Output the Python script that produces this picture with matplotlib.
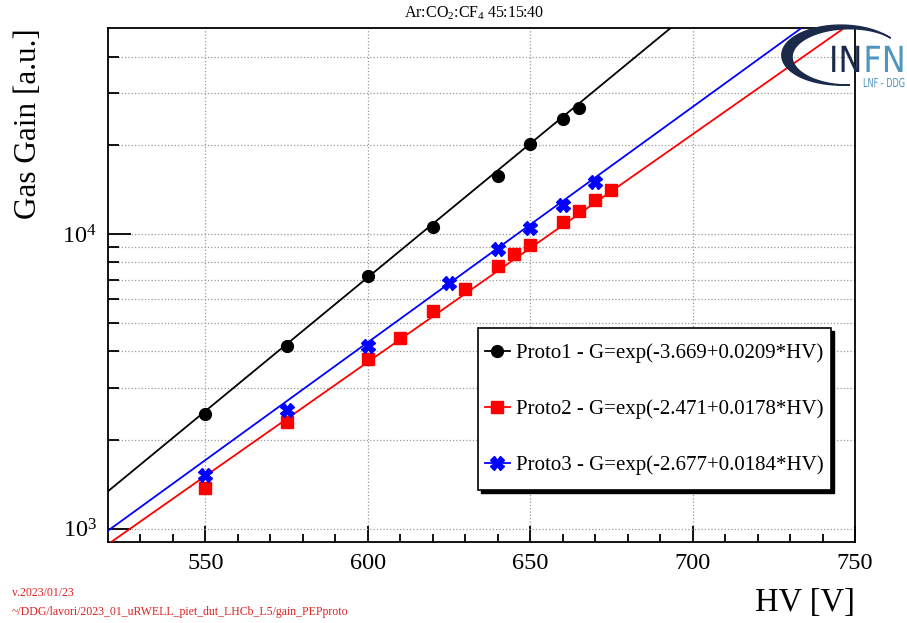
import numpy as np
import matplotlib.pyplot as plt
import matplotlib.transforms as mtransforms
from matplotlib.patches import Polygon, PathPatch, Rectangle
from matplotlib.textpath import TextPath
from matplotlib.font_manager import FontProperties
from matplotlib.ticker import FixedLocator, NullFormatter

plt.rcParams['font.family'] = ['Liberation Serif', 'DejaVu Serif']
plt.rcParams['mathtext.fontset'] = 'custom'
plt.rcParams['mathtext.rm'] = 'Liberation Serif'
plt.rcParams['mathtext.it'] = 'Liberation Serif:italic'

# dati
hv_p1 = [550, 575, 600, 620, 640, 650, 660, 665]
gain_p1 = [2455, 4150, 7170, 10580, 15770, 20200, 24600, 26800]

hv_p2 = [550, 575, 600, 610, 620, 630, 640, 645, 650, 660, 665, 670, 675]
gain_p2 = [1370, 2300, 3750, 4450, 5460, 6510, 7810, 8550, 9200, 11010, 11930, 13070, 14130]

hv_p3 = [550, 575, 600, 625, 640, 650, 660, 670]
gain_p3 = [1517, 2530, 4180, 6820, 8900, 10480, 12540, 14970]

# parametri dei fit (dalla legenda)
fit_p1 = (-3.669, 0.0209)
fit_p2 = (-2.471, 0.0178)
fit_p3 = (-2.677, 0.0184)

W, H = 907, 623
fig = plt.figure(figsize=(W / 100, H / 100), dpi=100)
ax = fig.add_axes([108 / W, 1 - 542 / H, 747 / W, 514 / H])

hv_fit = np.linspace(520, 750, 200)
series = [
    (hv_p1, gain_p1, fit_p1, 'black', 'o', 8.5, 'Proto1'),
    (hv_p2, gain_p2, fit_p2, '#ff0000', 's', 8.5, 'Proto2'),
    (hv_p3, gain_p3, fit_p3, '#0000ff', 'X', 9.5, 'Proto3'),
]
handles = []
for hv, g, (a, b), col, mk, ms, name in series:
    ax.plot(hv_fit, np.exp(a + b * hv_fit), color=col, lw=1.3, zorder=3)
    ax.plot(hv, g, ls='none', marker=mk, ms=ms, color=col, mec=col, zorder=4)
    h, = ax.plot([], [], color=col, lw=1.3, marker=mk, ms=ms, mec=col)
    h.set_label('%s - G=exp(%.3f+%.4f*HV)' % (name, a, b))
    handles.append(h)

ax.set_yscale('log')
ax.set_xlim(520, 750)
ax.set_ylim(900, 50000)

ax.xaxis.set_major_locator(FixedLocator([550, 600, 650, 700, 750]))
ax.xaxis.set_minor_locator(FixedLocator(np.arange(530, 750, 10)))
ax.yaxis.set_major_locator(FixedLocator([1e3, 1e4]))
ax.yaxis.set_minor_locator(FixedLocator([k * 1e3 for k in range(2, 10)] + [k * 1e4 for k in range(2, 5)]))
ax.yaxis.set_minor_formatter(NullFormatter())
ax.set_yticklabels([r'$10^{3}$', r'$10^{4}$'])

ax.tick_params(which='both', direction='in', top=False, right=False, width=1.3)
ax.tick_params(axis='x', which='major', length=11.5, labelsize=17.5, pad=8)
ax.tick_params(axis='x', which='minor', length=6)
ax.tick_params(axis='y', which='major', length=16.5, labelsize=17.5, pad=8)
ax.tick_params(axis='y', which='minor', length=8)
for s in ax.spines.values():
    s.set_linewidth(1.3)

ax.grid(True, which='major', axis='x', ls=':', color='#999999', lw=0.9)
ax.grid(True, which='both', axis='y', ls=':', color='#999999', lw=0.9)

ax.set_xlabel('HV [V]', fontsize=23.5, loc='right', labelpad=10)
ax.set_ylabel('Gas Gain [a.u.]', fontsize=22.5, loc='top', labelpad=14)

# legenda: riquadro con ombra stile ROOT disegnato a mano
lx, ly, lw_, lh = 0.495, 0.101, 0.473, 0.315
shadow_off = mtransforms.ScaledTranslation(3 / 100, -3 / 100, fig.dpi_scale_trans)
ax.add_patch(Rectangle((lx, ly), lw_, lh, transform=ax.transAxes + shadow_off,
                       facecolor='black', edgecolor='black', zorder=6, clip_on=False))
ax.add_patch(Rectangle((lx, ly), lw_, lh, transform=ax.transAxes,
                       facecolor='white', edgecolor='black', lw=1.2, zorder=7, clip_on=False))
leg = ax.legend(handles=handles, loc='center', bbox_to_anchor=(lx, ly, lw_, lh),
                fontsize=15, frameon=False, labelspacing=1.75, handlelength=1.2,
                handletextpad=0.3, borderaxespad=0)
leg.set_zorder(8)

fig.text(474 / W, 1 - 13 / H, r'Ar:CO$_2$:CF$_4$ 45:15:40', ha='center', va='center', fontsize=11.5)

fig.text(12 / W, 1 - 593 / H, 'v.2023/01/23', color='#dd2222', fontsize=8.5, va='center')
fig.text(12 / W, 1 - 612 / H, '~/DDG/lavori/2023_01_uRWELL_piet_dut_LHCb_L5/gain_PEPproto',
         color='#dd2222', fontsize=8.5, va='center')

# logo INFN (approssimato), coordinate in pixel dall'alto
to_fig = mtransforms.Affine2D().scale(1 / W, 1 / H) + fig.transFigure
t = np.radians(np.linspace(38, 275, 150))
cx, cy, ra, rb = 845, 56, 58, 29
w = 5.5 * np.sin(np.pi * (t - t[0]) / (t[-1] - t[0])) ** 1.3
outer = np.column_stack([cx + (ra + w) * np.cos(t), H - (cy - (rb + w * 0.6) * np.sin(t))])
inner = np.column_stack([cx + (ra - w) * np.cos(t), H - (cy - (rb - w * 0.6) * np.sin(t))])
fig.patches.append(Polygon(np.vstack([outer, inner[::-1]]), closed=True, transform=to_fig,
                           color='#1b2a4a', zorder=10))


def logo_text(s, x, base, sx, sy, col):
    tp = TextPath((0, 0), s, size=1, prop=FontProperties(family='DejaVu Sans'))
    tr = mtransforms.Affine2D().scale(sx, sy).translate(x, H - base) + to_fig
    fig.patches.append(PathPatch(tp, transform=tr, color=col, lw=0, zorder=11))


logo_text('IN', 829, 72, 32, 36, '#1b2a4a')
logo_text('FN', 829 + (0.295 + 0.748) * 32 + 1, 72, 32, 36, '#4f95bd')
logo_text('LNF - DDG', 863, 87, 8.1, 12.3, '#4f95bd')

plt.savefig('out.png', dpi=100)
